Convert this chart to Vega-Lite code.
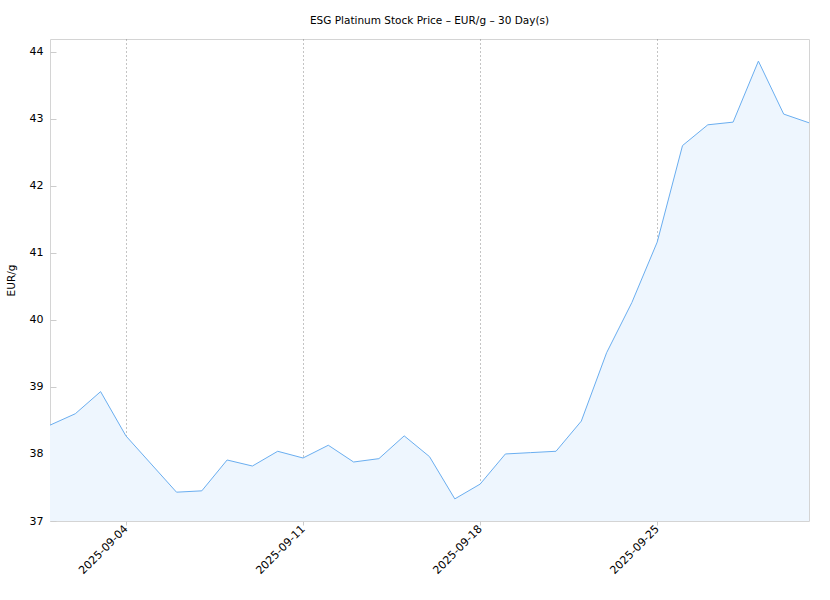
{
  "$schema": "https://vega.github.io/schema/vega-lite/v6.json",
  "width": 759,
  "height": 482,
  "autosize": {"type": "none"},
  "padding": {"left": 50, "top": 39, "right": 21, "bottom": 79},
  "background": "white",
  "title": {
    "text": "ESG Platinum Stock Price – EUR/g – 30 Day(s)",
    "font": "DejaVu Sans",
    "fontSize": 10.5,
    "fontWeight": "normal",
    "color": "#000000",
    "anchor": "middle",
    "offset": 13
  },
  "config": {
    "font": "DejaVu Sans",
    "view": {"stroke": "#d4d4d4", "strokeWidth": 1}
  },
  "data": {
    "values": [
      {"date": "2025-09-01", "price": 38.43},
      {"date": "2025-09-02", "price": 38.60},
      {"date": "2025-09-03", "price": 38.93},
      {"date": "2025-09-04", "price": 38.27},
      {"date": "2025-09-05", "price": 37.85},
      {"date": "2025-09-06", "price": 37.43},
      {"date": "2025-09-07", "price": 37.45},
      {"date": "2025-09-08", "price": 37.91},
      {"date": "2025-09-09", "price": 37.82},
      {"date": "2025-09-10", "price": 38.04},
      {"date": "2025-09-11", "price": 37.94},
      {"date": "2025-09-12", "price": 38.13},
      {"date": "2025-09-13", "price": 37.88},
      {"date": "2025-09-14", "price": 37.93},
      {"date": "2025-09-15", "price": 38.27},
      {"date": "2025-09-16", "price": 37.96},
      {"date": "2025-09-17", "price": 37.33},
      {"date": "2025-09-18", "price": 37.55},
      {"date": "2025-09-19", "price": 38.00},
      {"date": "2025-09-20", "price": 38.02},
      {"date": "2025-09-21", "price": 38.04},
      {"date": "2025-09-22", "price": 38.49},
      {"date": "2025-09-23", "price": 39.51},
      {"date": "2025-09-24", "price": 40.26},
      {"date": "2025-09-25", "price": 41.16},
      {"date": "2025-09-26", "price": 42.60},
      {"date": "2025-09-27", "price": 42.91},
      {"date": "2025-09-28", "price": 42.95},
      {"date": "2025-09-29", "price": 43.86},
      {"date": "2025-09-30", "price": 43.07},
      {"date": "2025-10-01", "price": 42.94}
    ]
  },
  "mark": {
    "type": "area",
    "color": "#eef6fe",
    "opacity": 1,
    "clip": true,
    "line": {"color": "#6aaef0", "strokeWidth": 1}
  },
  "encoding": {
    "x": {
      "field": "date",
      "type": "temporal",
      "scale": {"type": "utc", "nice": false},
      "axis": {
        "title": null,
        "values": [
          {"year": 2025, "month": 9, "date": 4, "utc": true},
          {"year": 2025, "month": 9, "date": 11, "utc": true},
          {"year": 2025, "month": 9, "date": 18, "utc": true},
          {"year": 2025, "month": 9, "date": 25, "utc": true}
        ],
        "format": "%Y-%m-%d",
        "labelAngle": -45,
        "labelAlign": "right",
        "labelBaseline": "middle",
        "labelFontSize": 11,
        "labelColor": "#000000",
        "labelPadding": 2,
        "labelFlush": false,
        "labelOverlap": false,
        "tickSize": 4,
        "tickColor": "#cccccc",
        "domain": false,
        "grid": true,
        "gridColor": "#888888",
        "gridDash": [1, 3],
        "gridWidth": 1
      }
    },
    "y": {
      "field": "price",
      "type": "quantitative",
      "scale": {"domain": [37, 44.19], "nice": false, "zero": false},
      "axis": {
        "title": "EUR/g",
        "titleFontSize": 10.5,
        "titleFontWeight": "normal",
        "titleColor": "#000000",
        "titlePadding": 13,
        "values": [37, 38, 39, 40, 41, 42, 43, 44],
        "labelFontSize": 11,
        "labelColor": "#000000",
        "labelPadding": 13,
        "ticks": true,
        "tickSize": -6,
        "tickColor": "#cccccc",
        "domain": false,
        "grid": false
      }
    }
  }
}
